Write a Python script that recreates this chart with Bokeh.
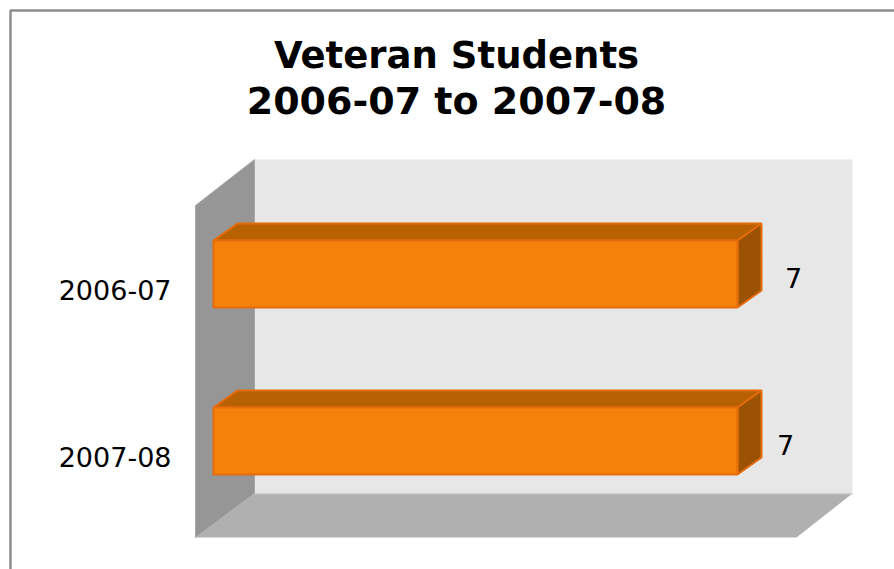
from bokeh.plotting import figure
from bokeh.models import Range1d
from bokeh.core.properties import value
from bokeh.embed import file_html
from bokeh.resources import INLINE

# data
categories = ["2006-07", "2007-08"]
values = [7, 7]
title_lines = ["Veteran Students", "2006-07 to 2007-08"]

W, H = 894, 569
OX, OY = 0, 0
X0, PX_PER_UNIT = 213, 524 / 7     # screen x of value 0, px per value unit
Y0, PX_PER_CAT = 273.5, 167        # screen y of first category, px per category
BAR_H = 67 / 167
DEPTH_X, DEPTH_Y = 24 / PX_PER_UNIT, 17 / PX_PER_CAT


def px(x):
    return (x - X0) / PX_PER_UNIT


def py(y):
    return (y - Y0) / PX_PER_CAT


p = figure(
    width=W, height=H, output_backend="svg", toolbar_location=None,
    x_range=Range1d(px(OX), px(OX + W)),
    y_range=Range1d(py(OY + H), py(OY)),
    min_border=0, min_border_left=0, min_border_right=0, min_border_top=0, min_border_bottom=0,
    outline_line_color=None, background_fill_color="white", border_fill_color="white",
)
p.axis.visible = False
p.grid.visible = False

# outer chart frame
p.line([px(10), px(10), px(894)], [py(569), py(10), py(10)], line_color="#8E8E8E", line_width=2.5)

# 3-D walls
p.patch([px(254), px(852), px(852), px(254)], [py(159), py(159), py(493), py(493)],
        fill_color="#E7E7E7", line_color=None)
p.patch([px(195), px(254), px(254), px(195)], [py(205), py(159), py(493), py(537)],
        fill_color="#969696", line_color="#A8A8A8", line_width=1)
p.patch([px(254), px(852), px(796), px(195)], [py(493), py(493), py(537), py(537)],
        fill_color="#B0B0B0", line_color=None)
p.line([px(254), px(852)], [py(493.5), py(493.5)], line_color="#C8C8C8", line_width=1)

# 3-D bars
EDGE = "#E46C0A"
for i, v in enumerate(values):
    top, bot = i - BAR_H / 2, i + BAR_H / 2
    p.patch([0, v, v + DEPTH_X, DEPTH_X], [top, top, top - DEPTH_Y, top - DEPTH_Y],
            fill_color="#B86103", line_color=EDGE, line_width=2)
    p.patch([v, v + DEPTH_X, v + DEPTH_X, v], [top, top - DEPTH_Y, bot - DEPTH_Y, bot],
            fill_color="#9C5205", line_color=EDGE, line_width=2)
    p.patch([0, v, v, 0], [top, top, bot, bot],
            fill_color="#F5800A", line_color=EDGE, line_width=2)

FONT = value("DejaVu Sans")
# title
p.text([px(456)], [py(55)], text=[title_lines[0]], text_font=FONT, text_font_size="37px",
       text_font_style="bold", text_align="center", text_baseline="middle", text_color="black")
p.text([px(456)], [py(100)], text=[title_lines[1]], text_font=FONT, text_font_size="38px",
       text_font_style="bold", text_align="center", text_baseline="middle", text_color="black")

# category labels
p.text([px(171)] * 2, [i + 0.095 for i in range(len(categories))], text=categories, text_font=FONT,
       text_font_size="27px", text_align="right", text_baseline="middle", text_color="black")

# value labels
label_dx = [56, 48]
label_dy = [3.5, 3.5]
for i, v in enumerate(values):
    p.text([v], [i], text=[str(v)], x_offset=[label_dx[i]], y_offset=[label_dy[i]], text_font=FONT,
           text_font_size="27px", text_align="center", text_baseline="middle", text_color="black")

open("out.html", "w").write(file_html(p, INLINE))
